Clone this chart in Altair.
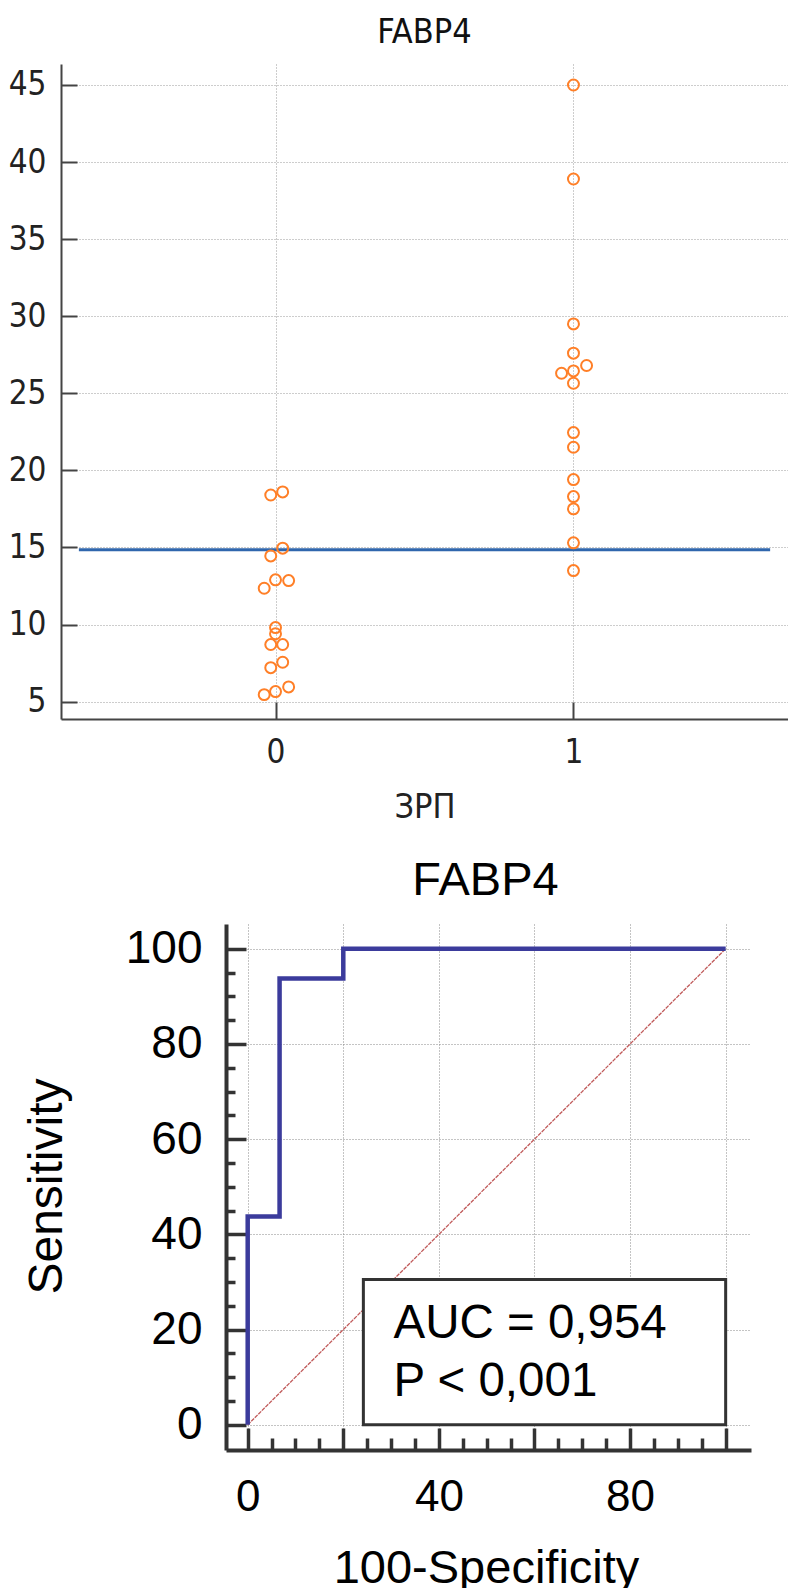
import altair as alt
import pandas as pd

NARROW = "Liberation Sans Narrow, Arial Narrow, DejaVu Sans Condensed, Liberation Sans"
SANS = "Liberation Sans, Arial, sans-serif"

# ---------------- dot plot data ----------------
group0_value = [18.4, 18.6, 14.95, 14.45, 12.9, 12.85, 12.35, 9.8, 9.4, 8.7, 8.7, 7.55, 7.2, 5.95, 5.65, 5.45]
group0_pos = [-0.016, 0.024, 0.024, -0.016, 0.0, 0.044, -0.038, 0.0, 0.0, -0.016, 0.024, 0.024, -0.016, 0.044, 0.0, -0.038]
group1_value = [45.0, 38.9, 29.5, 27.6, 26.8, 26.45, 26.3, 25.65, 22.45, 21.5, 19.4, 18.3, 17.5, 15.3, 13.5]
group1_pos = [1.0, 1.0, 1.0, 1.0, 1.044, 1.0, 0.96, 1.0, 1.0, 1.0, 1.0, 1.0, 1.0, 1.0, 1.0]
cutoff_value = [14.85]
cutoff_start = [-0.66]
cutoff_end = [1.66]
dot_x_ticks = [0, 1]
dot_y_ticks = [5, 10, 15, 20, 25, 30, 35, 40, 45]

# ---------------- ROC data ----------------
roc_fpr = [0, 0, 6.67, 6.67, 20, 20, 100]
roc_tpr = [0, 43.75, 43.75, 93.75, 93.75, 100, 100]
diag_x = [0, 100]
diag_y = [0, 100]
auc_box_x = [24.2]
auc_box_x2 = [100]
auc_box_y = [0]
auc_box_y2 = [30.5]
auc_lines = ["AUC = 0,954", "P < 0,001"]
auc_text_x = [30.5, 30.5]
auc_text_y = [18.2, 6.0]
roc_major = [0, 20, 40, 60, 80, 100]
roc_minor = [0, 5, 10, 15, 20, 25, 30, 35, 40, 45, 50, 55, 60, 65, 70, 75, 80, 85, 90, 95, 100]

# ---------------- dot plot ----------------
dots = pd.DataFrame({
    "pos": group0_pos + group1_pos,
    "value": group0_value + group1_value,
})
cut = pd.DataFrame({"x": cutoff_start, "x2": cutoff_end, "y": cutoff_value})

W1, H1 = 727, 655
xs1 = alt.Scale(domain=[-0.72, 1.72], nice=False, zero=False)
ys1 = alt.Scale(domain=[3.87, 46.36], nice=False, zero=False)

grid_common = dict(grid=True, gridColor="#9a9a9a", gridDash=[1, 2], gridWidth=1)

x_main1 = alt.Axis(values=dot_x_ticks, ticks=False, domain=True, domainColor="#444", domainWidth=2,
                   labelFont=NARROW, labelFontSize=33, labelColor="#222", labelPadding=17,
                   labelFlush=False, format="d",
                   title="ЗРП", titleFont=NARROW, titleFontSize=34, titleFontWeight="normal",
                   titleColor="#222", titleBaseline="alphabetic", titleY=98, **grid_common)
y_main1 = alt.Axis(values=dot_y_ticks, ticks=False, domain=True, domainColor="#444", domainWidth=2,
                   labelFont=NARROW, labelFontSize=33, labelColor="#222", labelPadding=15,
                   labelFlush=False, title=None, **grid_common)
x_help1 = alt.Axis(orient="top", offset=-H1, values=dot_x_ticks, ticks=True, tickSize=17,
                   tickWidth=2, tickColor="#444", labels=False, domain=False, grid=False, title=None)
y_help1 = alt.Axis(orient="right", offset=-W1, values=dot_y_ticks, ticks=True, tickSize=16,
                   tickWidth=2, tickColor="#444", labels=False, domain=False, grid=False, title=None)

points = alt.Chart(dots).mark_point(shape="circle", filled=False, size=120, strokeWidth=2,
                                    color="#ff7f27", opacity=1).encode(
    x=alt.X("pos:Q", scale=xs1, axis=x_main1),
    y=alt.Y("value:Q", scale=ys1, axis=y_main1),
)
cutline = alt.Chart(cut).mark_rule(color="#2f66ad", strokeWidth=3).encode(
    x=alt.X("x:Q", scale=xs1, axis=x_help1),
    x2="x2:Q",
    y=alt.Y("y:Q", scale=ys1, axis=y_help1),
)
top = alt.layer(cutline, points).resolve_axis(x="independent", y="independent").properties(
    width=W1, height=H1,
    title=alt.TitleParams("FABP4", font=NARROW, fontSize=34, fontWeight="normal", color="#111",
                          anchor="middle", baseline="alphabetic", offset=-12.7, frame="group"),
)

# ---------------- ROC ----------------
# the ROC panel shares the column with the dot plot; its x range is placed inside the panel
W2, H2 = 727, 526
X0, X1 = 165, 690
xs2 = alt.Scale(domain=[-4.54, 105.3], range=[X0, X1], nice=False, zero=False)
ys2 = alt.Scale(domain=[-5.3, 105.2], nice=False, zero=False)

roc_df = pd.DataFrame({"fpr": roc_fpr, "tpr": roc_tpr, "order": list(range(len(roc_fpr)))})
diag_df = pd.DataFrame({"x": diag_x, "y": diag_y})
box_df = pd.DataFrame({"x": auc_box_x, "x2": auc_box_x2, "y": auc_box_y, "y2": auc_box_y2})
txt_df = pd.DataFrame({"x": auc_text_x, "y": auc_text_y, "t": auc_lines})

grid2 = dict(grid=True, gridColor="#888", gridDash=[1, 2], gridWidth=1)
x_main2 = alt.Axis(values=roc_major, ticks=False, domain=True, domainColor="#333", domainWidth=4,
                   labelFont=SANS, labelFontSize=44, labelColor="#000", labelPadding=25,
                   labelFlush=False, labelExpr="datum.value % 40 === 0 ? datum.label : ''",
                   title="100-Specificity", titleFont=SANS, titleFontSize=47, titleFontWeight="normal",
                   titleColor="#000", titleBaseline="alphabetic", titleAlign="center",
                   titleX=425, titleY=132, **grid2)
y_main2 = alt.Axis(values=roc_major, ticks=False, domain=True, domainColor="#333", domainWidth=4,
                   offset=-X0,
                   labelFont=SANS, labelFontSize=46, labelColor="#000", labelPadding=24,
                   labelFlush=False,
                   title="Sensitivity", titleFont=SANS, titleFontSize=48, titleFontWeight="normal",
                   titleColor="#000", titleAngle=270, titleBaseline="alphabetic", titleAlign="center",
                   titleX=-165, titleY=262, **grid2)
x_help2 = alt.Axis(orient="top", offset=-H2, values=roc_minor, ticks=True,
                   tickSize={"condition": {"test": "datum.value % 20 === 0", "value": 22}, "value": 12},
                   tickWidth=3.5, tickColor="#333", labels=False, domain=False, grid=False, title=None)
y_help2 = alt.Axis(orient="right", offset=-(W2 - X0), values=roc_minor, ticks=True,
                   tickSize={"condition": {"test": "datum.value % 20 === 0", "value": 20}, "value": 9},
                   tickWidth=3.5, tickColor="#333", labels=False, domain=False, grid=False, title=None)

diag = alt.Chart(diag_df).mark_line(color="#c05a5a", strokeWidth=1.3, strokeDash=[4, 1]).encode(
    x=alt.X("x:Q", scale=xs2, axis=x_main2),
    y=alt.Y("y:Q", scale=ys2, axis=y_main2),
)
box = alt.Chart(box_df).mark_rect(fill="white", stroke="#333", strokeWidth=3).encode(
    x=alt.X("x:Q", scale=xs2, axis=None),
    x2="x2:Q",
    y=alt.Y("y:Q", scale=ys2, axis=None),
    y2="y2:Q",
)
curve = alt.Chart(roc_df).mark_line(color="#3b3b9c", strokeWidth=4.5, interpolate="linear").encode(
    x=alt.X("fpr:Q", scale=xs2, axis=x_help2),
    y=alt.Y("tpr:Q", scale=ys2, axis=y_help2),
    order="order:Q",
)
txt = alt.Chart(txt_df).mark_text(font=SANS, fontSize=47.5, align="left", baseline="alphabetic",
                                  color="#000").encode(
    x=alt.X("x:Q", scale=xs2, axis=None),
    y=alt.Y("y:Q", scale=ys2, axis=None),
    text="t:N",
)
roc = alt.layer(diag, curve, box, txt).resolve_axis(x="independent", y="independent").properties(
    width=W2, height=H2,
    title=alt.TitleParams("FABP4", font=SANS, fontSize=47, fontWeight="normal", color="#000",
                          anchor="middle", baseline="alphabetic", offset=-18.3, frame="group", dx=61),
)

chart = alt.vconcat(top, roc, spacing=33).properties(
    padding={"left": 0, "top": 7, "right": 0, "bottom": 0}
).configure_view(stroke=None)

chart.save("out.html", embed_options={"renderer": "svg", "actions": False})
